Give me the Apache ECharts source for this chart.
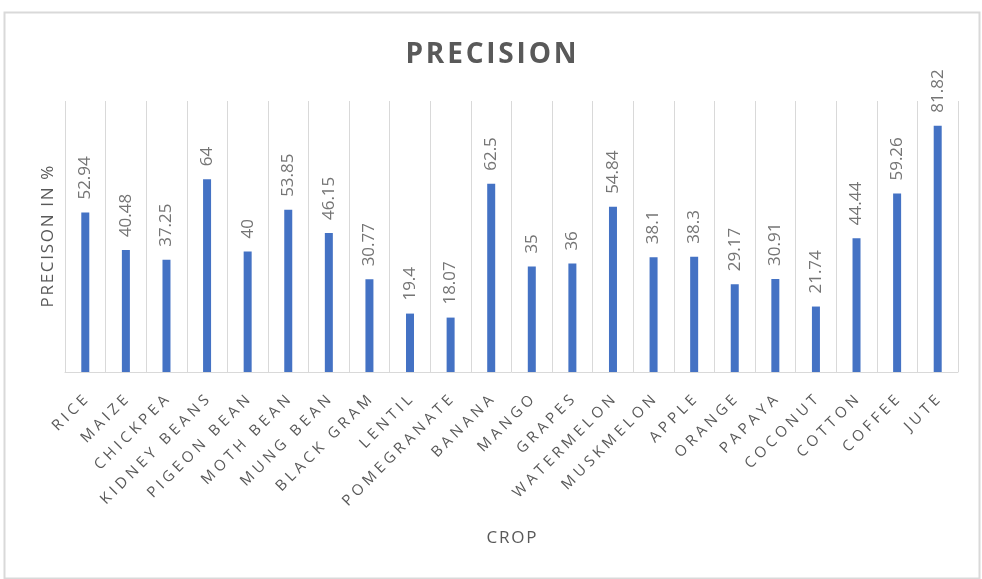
<!DOCTYPE html>
<html><head><meta charset="utf-8">
<script src="https://cdn.jsdelivr.net/npm/echarts@6/dist/echarts.min.js"></script>
<style>html,body{margin:0;padding:0;background:#fff}#c{width:982px;height:579px}</style>
</head><body><div id="c"></div>
<script>
var categories = ["RICE","MAIZE","CHICKPEA","KIDNEY BEANS","PIGEON BEAN","MOTH BEAN","MUNG BEAN","BLACK GRAM","LENTIL","POMEGRANATE","BANANA","MANGO","GRAPES","WATERMELON","MUSKMELON","APPLE","ORANGE","PAPAYA","COCONUT","COTTON","COFFEE","JUTE"];
var precision = [52.94,40.48,37.25,64,40,53.85,46.15,30.77,19.4,18.07,62.5,35,36,54.84,38.1,38.3,29.17,30.91,21.74,44.44,59.26,81.82];
var titleText = 'PRECISION';
var yName = 'PRECISON IN %';
var xName = 'CROP';
function spaced(s, sp) { return s.split('').join(sp); }
var THIN = '\u2009', HAIR = '\u200A';
var chart = echarts.init(document.getElementById('c'));
chart.setOption({
  backgroundColor: '#ffffff',
  graphic: [{type:'rect', shape:{x:4.5,y:12.5,width:975,height:566}, style:{fill:'none', stroke:'#d9d9d9', lineWidth:2}}],
  title: {text:spaced(titleText, HAIR), left:'center', top:36, textStyle:{fontFamily:'Open Sans', fontSize:28, fontWeight:'bold', color:'#595959'}},
  grid: {left:65, right:24, top:101, bottom:207, containLabel:false},
  xAxis: {type:'category', data:categories, name:spaced(xName, HAIR), nameLocation:'middle', nameGap:158,
    nameTextStyle:{fontFamily:'Open Sans', fontSize:17, color:'#595959'},
    axisLine:{lineStyle:{color:'#d9d9d9'}}, axisTick:{show:false},
    splitLine:{show:true, lineStyle:{color:'#d9d9d9'}},
    axisLabel:{rotate:45, interval:0, fontFamily:'Open Sans', fontSize:15, color:'#595959', margin:26,
      formatter:function(v){return spaced(v, THIN + HAIR);}}},
  yAxis: {type:'value', min:0, max:90, name:spaced(yName, HAIR), nameLocation:'middle', nameGap:8,
    nameTextStyle:{fontFamily:'Open Sans', fontSize:17, color:'#595959'},
    axisLabel:{show:false}, axisLine:{show:false}, axisTick:{show:false}, splitLine:{show:false}},
  series: [{type:'bar', data:precision, barWidth:8, itemStyle:{color:'#4472C4'},
    label:{show:true, position:'top', rotate:90, align:'left', verticalAlign:'middle', distance:13,
      fontFamily:'Open Sans', fontSize:17, color:'#757575'}}]
});
</script></body></html>
